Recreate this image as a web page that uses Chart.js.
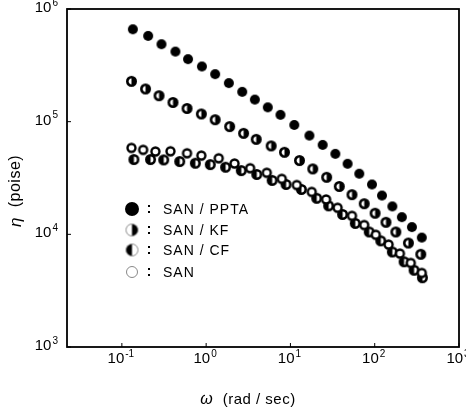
<!DOCTYPE html>
<html>
<head>
<meta charset="utf-8">
<script src="https://cdn.jsdelivr.net/npm/chart.js@4/dist/chart.umd.min.js"></script>
<style>
  body { margin: 0; background: #fff; }
</style>
</head>
<body>
<canvas id="graphic" width="466" height="410"></canvas>
<script>
// values: omega (rad/sec) and eta (poise)
const pptaW = [0.135, 0.205, 0.295, 0.432, 0.610, 0.891, 1.28, 1.86, 2.68, 3.78, 5.39, 7.62, 11.1, 16.8, 24.1, 34.1, 47.7, 65.6, 92.7, 122, 162, 210, 276, 362];
const pptaEta = [6.61e5, 5.77e5, 4.87e5, 4.19e5, 3.59e5, 3.09e5, 2.64e5, 2.20e5, 1.84e5, 1.57e5, 1.34e5, 1.15e5, 9.35e4, 7.52e4, 6.22e4, 5.18e4, 4.23e4, 3.45e4, 2.77e4, 2.21e4, 1.77e4, 1.42e4, 1.16e4, 9.35e3];

const kfW = [0.130, 0.191, 0.276, 0.404, 0.593, 0.877, 1.28, 1.90, 2.78, 3.93, 5.91, 8.50, 12.8, 18.4, 26.9, 38.0, 53.7, 75.1, 101, 136, 178, 251, 352];
const kfEta = [2.28e5, 1.95e5, 1.70e5, 1.48e5, 1.31e5, 1.17e5, 1.04e5, 9.04e4, 7.88e4, 6.97e4, 6.09e4, 5.35e4, 4.52e4, 3.81e4, 3.21e4, 2.66e4, 2.25e4, 1.87e4, 1.54e4, 1.28e4, 1.05e4, 8.37e3, 6.65e3];

const cfW = [0.139, 0.219, 0.314, 0.486, 0.745, 1.12, 1.70, 2.61, 3.99, 6.07, 8.89, 13.5, 20.5, 28.4, 41.6, 58.8, 86.0, 118, 162, 223, 293, 368];
const cfEta = [4.61e4, 4.61e4, 4.58e4, 4.43e4, 4.28e4, 4.16e4, 3.94e4, 3.68e4, 3.40e4, 3.01e4, 2.77e4, 2.50e4, 2.09e4, 1.79e4, 1.50e4, 1.25e4, 1.05e4, 8.75e3, 6.97e3, 5.71e3, 4.80e3, 4.12e3];

const sanW = [0.130, 0.179, 0.250, 0.377, 0.593, 0.877, 1.41, 2.17, 3.33, 5.24, 7.89, 11.9, 17.9, 26.5, 36.3, 53.7, 75.1, 103, 146, 199, 268, 362];
const sanEta = [5.85e4, 5.62e4, 5.43e4, 5.46e4, 5.24e4, 5.00e4, 4.73e4, 4.25e4, 3.86e4, 3.52e4, 3.11e4, 2.74e4, 2.38e4, 2.04e4, 1.72e4, 1.46e4, 1.21e4, 9.91e3, 8.11e3, 6.75e3, 5.57e3, 4.54e3];

const seriesNames = ['SAN / PPTA', 'SAN / KF', 'SAN / CF', 'SAN'];
const xTicks = [0.1, 1, 10, 100, 1000];
const xTickExp = ['-1', '0', '1', '2', '3'];
const yTicks = [1e3, 1e4, 1e5, 1e6];
const yTickExp = ['3', '4', '5', '6'];

const LBL = '"Liberation Sans", Arial, sans-serif';
const TXT = '"Liberation Sans", Arial, sans-serif';

// marker pictures: full, right half black, left half black, open
function marker(kind, r, lw, edge) {
    const c = document.createElement('canvas');
    const s = Math.ceil(2 * r + lw + 2);
    c.width = s; c.height = s;
    const g = c.getContext('2d');
    const m = s / 2;
    g.beginPath(); g.arc(m, m, r, 0, Math.PI * 2);
    g.fillStyle = kind == 'full' ? '#000' : '#fff';
    g.fill();
    if (kind == 'right' || kind == 'left') {
        g.beginPath();
        if (kind == 'right') g.arc(m, m, r, -Math.PI / 2, Math.PI / 2);
        else g.arc(m, m, r, Math.PI / 2, Math.PI * 1.5);
        g.closePath();
        g.fillStyle = '#000';
        g.fill();
    }
    if (kind != 'full') {
        g.beginPath(); g.arc(m, m, r, 0, Math.PI * 2);
        g.lineWidth = lw; g.strokeStyle = edge || '#000';
        g.stroke();
    }
    return c;
}

const dotStyles = [marker('full', 5, 0), marker('right', 4.2, 2.6), marker('left', 4.2, 2.6), marker('open', 4, 2.4)];
const keyStyles = [marker('full', 7, 0), marker('right', 6, 1, '#888'), marker('left', 6, 1, '#888'), marker('open', 5.5, 1, '#888')];

function pts(w, e) {
    return w.map((v, i) => ({ x: v, y: e[i] }));
}

function drawPow(ctx, exp, x, y, align) {
    ctx.font = '15px ' + LBL;
    const wb = ctx.measureText('10').width;
    ctx.font = '10px ' + LBL;
    const we = ctx.measureText(exp).width + 1;
    let x0 = align == 'right' ? x - wb - we : x - (wb + we) / 2;
    ctx.textAlign = 'left';
    ctx.textBaseline = 'middle';
    ctx.font = '15px ' + LBL;
    ctx.fillText('10', x0, y);
    ctx.font = '10px ' + LBL;
    ctx.fillText(exp, x0 + wb + 1, y - 5);
}

const decorations = {
    id: 'decorations',
    afterDraw(chart) {
        const ctx = chart.ctx;
        const a = chart.chartArea;
        const sx = chart.scales.x, sy = chart.scales.y;
        ctx.save();
        ctx.strokeStyle = '#000';
        ctx.fillStyle = '#000';
        ctx.lineWidth = 1.8;
        ctx.strokeRect(a.left, a.top, a.right - a.left, a.bottom - a.top);

        // inward ticks
        ctx.lineWidth = 1;
        xTicks.forEach(v => {
            const px = sx.getPixelForValue(v);
            ctx.beginPath(); ctx.moveTo(px, a.bottom); ctx.lineTo(px, a.bottom - 4); ctx.stroke();
        });
        yTicks.forEach(v => {
            const py = sy.getPixelForValue(v);
            ctx.beginPath(); ctx.moveTo(a.left, py); ctx.lineTo(a.left + 4, py); ctx.stroke();
        });

        // tick labels
        xTicks.forEach((v, i) => drawPow(ctx, xTickExp[i], sx.getPixelForValue(v) - 1, a.bottom + 12, 'center'));
        yTicks.forEach((v, i) => drawPow(ctx, yTickExp[i], a.left - 9, sy.getPixelForValue(v) - 1, 'right'));

        // axis titles
        ctx.textBaseline = 'middle';
        ctx.letterSpacing = '0.5px';
        ctx.font = 'italic 16px ' + TXT;
        const wo = ctx.measureText('ω').width;
        ctx.font = '15px ' + TXT;
        const wr = ctx.measureText('  (rad / sec)').width;
        let tx = 248 - (wo + wr) / 2;
        ctx.textAlign = 'left';
        ctx.font = 'italic 16px ' + TXT;
        ctx.fillText('ω', tx, 400);
        ctx.font = '15px ' + TXT;
        ctx.fillText('  (rad / sec)', tx + wo, 400);

        ctx.save();
        ctx.translate(16, 191);
        ctx.rotate(-Math.PI / 2);
        ctx.font = 'italic 17px ' + TXT;
        const we = ctx.measureText('η').width;
        ctx.font = '16px ' + TXT;
        const wp = ctx.measureText('  (poise)').width;
        tx = -(we + wp) / 2;
        ctx.font = 'italic 17px ' + TXT;
        ctx.fillText('η', tx, 0);
        ctx.font = '16px ' + TXT;
        ctx.fillText('  (poise)', tx + we, 0);
        ctx.restore();

        // legend
        const keyY = [209, 230, 250, 272];
        ctx.font = '14px ' + TXT;
        ctx.letterSpacing = '1px';
        seriesNames.forEach((name, i) => {
            const img = keyStyles[i];
            const y = keyY[i];
            ctx.drawImage(img, 132 - img.width / 2, y - img.height / 2);
            ctx.fillRect(148, y - 4, 2, 2);
            ctx.fillRect(148, y + 2, 2, 2);
            ctx.textAlign = 'left';
            ctx.fillText(name, 163, y + 1);
        });
        ctx.restore();
    }
};

const datasets = [
    { label: seriesNames[3], data: pts(sanW, sanEta), pointStyle: dotStyles[3] },
    { label: seriesNames[2], data: pts(cfW, cfEta), pointStyle: dotStyles[2] },
    { label: seriesNames[1], data: pts(kfW, kfEta), pointStyle: dotStyles[1] },
    { label: seriesNames[0], data: pts(pptaW, pptaEta), pointStyle: dotStyles[0] }
].map(d => Object.assign(d, { showLine: false, pointRadius: 5, clip: false }));

let myChart = new Chart(document.getElementById('graphic'), {
    type: 'scatter',
    data: { datasets: datasets },
    options: {
        responsive: false,
        animation: false,
        devicePixelRatio: 1,
        layout: { padding: { left: 67, right: 7, top: 9, bottom: 63 } },
        plugins: { legend: { display: false }, tooltip: { enabled: false } },
        scales: {
            x: {
                type: 'logarithmic',
                min: 0.02234,
                max: 1000,
                grid: { display: false, drawTicks: false },
                border: { display: false },
                ticks: { display: false }
            },
            y: {
                type: 'logarithmic',
                min: 1000,
                max: 1e6,
                grid: { display: false, drawTicks: false },
                border: { display: false },
                ticks: { display: false }
            }
        }
    },
    plugins: [decorations]
});
</script>
</body>
</html>
